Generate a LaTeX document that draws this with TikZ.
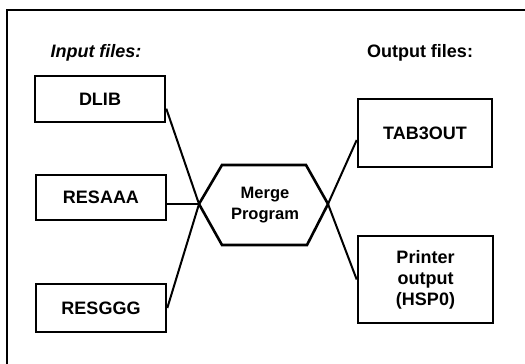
\documentclass[tikz,border=0pt]{standalone}
\usepackage{fontspec}
\setmainfont{Liberation Sans}
\usetikzlibrary{calc}
\begin{document}
\begin{tikzpicture}[x=1pt,y=-1pt,
  filebox/.style={draw, line width=2.6pt, inner sep=0pt, align=center,
    font=\bfseries\fontsize{18}{21}\selectfont},
  heading/.style={font=\bfseries\fontsize{18}{21}\selectfont},
  conn/.style={line width=2pt},
  frameline/.style={line width=2pt}]
\useasboundingbox (0,0) rectangle (525,364);
\clip (0,0) rectangle (525,364);

% open frame running off the page on the right and at the bottom
\draw[frameline] (7,10) rectangle (540,380);

% headings
\node[heading] (inhead) at (96,53) {\itshape Input files:};
\node[heading] (outhead) at (420,53) {Output files:};

% input files
\node[filebox, minimum width=130pt, minimum height=46pt] (dlib) at (100,99) {DLIB};
\node[filebox, minimum width=130pt, minimum height=45pt] (resaaa) at (101,197.5) {RESAAA};
\node[filebox, minimum width=130pt, minimum height=48pt] (resggg) at (101,308) {RESGGG};

% output files
\node[filebox, minimum width=134pt, minimum height=68pt] (tab) at (425,133) {TAB3OUT};
\node[filebox, minimum width=135pt, minimum height=87pt] (printer) at (425.5,279.5) {Printer\\output\\(HSP0)};

% merge program hexagon
\coordinate (hexL) at (199,204);
\coordinate (hexTL) at (222,165);
\coordinate (hexTR) at (306,165);
\coordinate (hexR) at (328,204);
\coordinate (hexBR) at (307,245);
\coordinate (hexBL) at (222,245);
\draw[line width=2.6pt, line join=miter] (hexL) -- (hexTL) -- (hexTR) -- (hexR) -- (hexBR) -- (hexBL) -- cycle;
\node[align=center, font=\bfseries\fontsize{16.5}{21}\selectfont] (merge) at (265,205) {Merge\\Program};

% connectors
\draw[conn] ($(dlib.north east)!0.7!(dlib.south east)$) -- (hexL);
\draw[conn] (resaaa.east |- hexL) -- (hexL);
\draw[conn] (resggg.east) -- (hexL);
\draw[conn] (hexR) -- ($(tab.north west)!0.6!(tab.south west)$);
\draw[conn] (hexR) -- (printer.west);
\end{tikzpicture}
\end{document}
